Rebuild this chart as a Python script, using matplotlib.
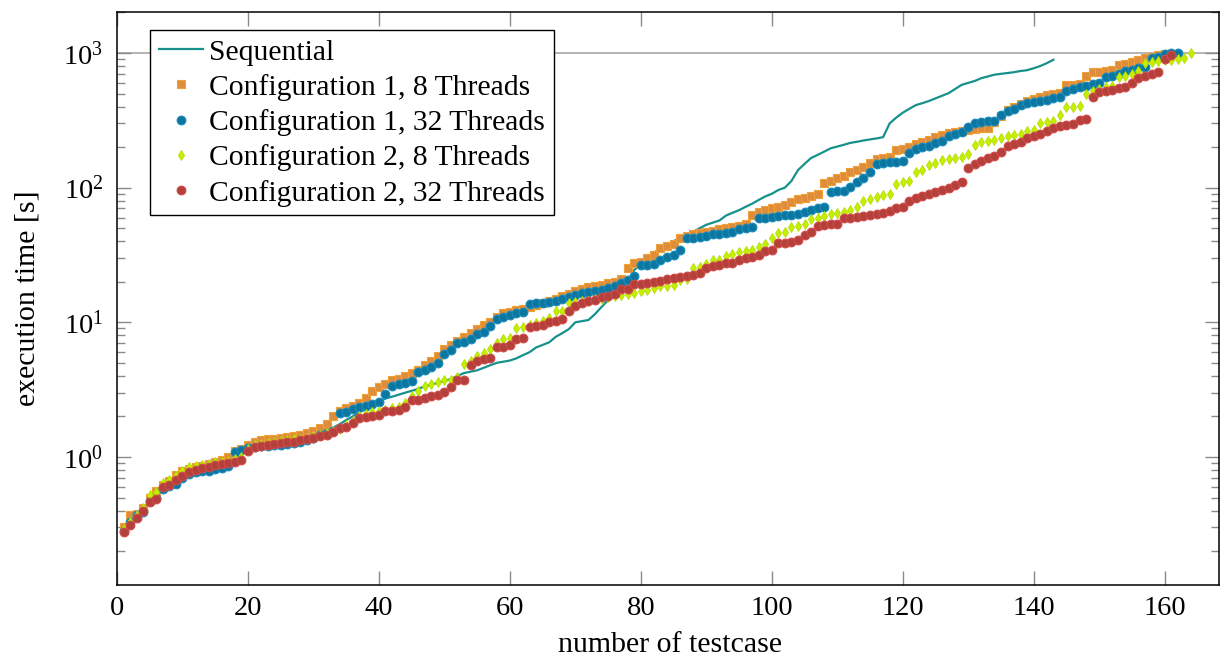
import matplotlib
matplotlib.use("Agg")
import matplotlib.pyplot as plt
import numpy as np
from matplotlib.ticker import LogLocator, FixedLocator, NullFormatter

plt.rcParams['font.family'] = ['Liberation Serif', 'DejaVu Serif']
plt.rcParams['mathtext.fontset'] = 'stix'
plt.rcParams['font.size'] = 20

# execution times in seconds, sorted per configuration
sequential = [
    0.28, 0.32, 0.36, 0.40, 0.45, 0.50, 0.58, 0.62, 0.66, 0.72,
    0.76, 0.78, 0.80, 0.82, 0.85, 0.88, 0.92, 1.05, 1.12, 1.16,
    1.20, 1.22, 1.24, 1.26, 1.28, 1.30, 1.33, 1.36, 1.40, 1.45,
    1.50, 1.58, 1.65, 1.75, 1.88, 2.00, 2.15, 2.25, 2.40, 2.55,
    2.72, 2.80, 2.90, 3.00, 3.10, 3.20, 3.35, 3.45, 3.55, 3.65,
    3.80, 4.00, 4.20, 4.30, 4.40, 4.60, 4.80, 5.00, 5.10, 5.20,
    5.40, 5.70, 6.00, 6.50, 6.80, 7.10, 7.80, 8.30, 8.90, 10.0,
    10.2, 10.4, 11.5, 13.0, 14.6, 16.0, 17.5, 19.6, 24.5, 27.0,
    30.0, 33.0, 35.0, 37.0, 40.0, 42.0, 45.0, 47.0, 50.0, 53.0,
    55.0, 57.0, 62.0, 65.0, 68.0, 72.0, 76.0, 81.0, 86.0, 90.0,
    96.0, 100, 112, 135, 150, 166, 175, 185, 196, 202,
    208, 215, 219, 224, 228, 232, 237, 300, 331, 360,
    385, 410, 424, 440, 460, 480, 503, 540, 580, 600,
    620, 650, 670, 690, 700, 710, 720, 735, 745, 770,
    800, 840, 890,
]

conf1_8 = [
    0.30, 0.37, 0.38, 0.42, 0.50, 0.56, 0.62, 0.66, 0.74, 0.79,
    0.82, 0.84, 0.86, 0.88, 0.92, 0.95, 1.00, 1.10, 1.15, 1.22,
    1.30, 1.33, 1.35, 1.37, 1.38, 1.40, 1.42, 1.45, 1.50, 1.55,
    1.65, 1.75, 2.00, 2.20, 2.30, 2.40, 2.50, 2.75, 3.10, 3.30,
    3.50, 3.70, 3.80, 4.00, 4.20, 4.45, 4.80, 5.20, 5.60, 6.30,
    6.80, 7.30, 7.80, 8.30, 8.90, 9.50, 10.1, 11.0, 11.7, 12.0,
    12.3, 12.6, 13.0, 13.5, 14.0, 14.5, 15.0, 15.6, 16.2, 17.0,
    17.6, 18.2, 18.6, 19.0, 19.5, 20.0, 21.0, 25.3, 27.5, 28.0,
    30.0, 31.5, 35.5, 37.0, 38.0, 42.0, 44.0, 45.0, 46.0, 47.0,
    48.0, 49.0, 50.0, 51.0, 52.0, 54.0, 63.0, 66.0, 68.0, 70.0,
    72.0, 74.0, 78.0, 82.0, 84.0, 86.0, 90.0, 108, 112, 118,
    122, 130, 135, 142, 152, 162, 165, 170, 190, 195,
    200, 210, 218, 225, 236, 245, 255, 260, 265, 270,
    272, 275, 278, 306, 340, 380, 400, 420, 440, 455,
    470, 485, 500, 505, 575, 580, 590, 680, 720, 725,
    735, 745, 810, 830, 860, 880, 920, 940, 960, 980,
]

conf1_32 = [
    0.28, 0.33, 0.37, 0.39, 0.47, 0.50, 0.58, 0.61, 0.63, 0.70,
    0.75, 0.77, 0.78, 0.79, 0.81, 0.83, 0.86, 1.08, 1.12, 1.16,
    1.18, 1.20, 1.21, 1.22, 1.23, 1.24, 1.26, 1.30, 1.34, 1.38,
    1.45, 1.50, 1.56, 2.12, 2.14, 2.27, 2.33, 2.37, 2.47, 2.56,
    2.93, 3.37, 3.48, 3.55, 3.67, 4.27, 4.40, 4.66, 5.00, 5.80,
    6.20, 7.00, 7.20, 7.50, 8.20, 8.50, 9.40, 10.6, 11.0, 11.3,
    11.8, 12.0, 13.6, 13.9, 14.0, 14.2, 14.5, 14.8, 15.4, 15.9,
    16.4, 16.9, 17.2, 17.5, 18.0, 18.5, 19.5, 20.5, 22.0, 26.6,
    26.8, 27.0, 29.0, 30.4, 31.5, 34.5, 42.0, 42.5, 43.0, 44.0,
    45.3, 45.5, 46.0, 47.0, 49.6, 50.3, 51.0, 59.0, 60.0, 61.0,
    62.0, 62.5, 63.0, 64.0, 66.0, 68.0, 70.0, 72.0, 93.0, 94.0,
    95.0, 101, 110, 118, 130, 150, 153, 155, 156, 158,
    181, 195, 200, 203, 215, 222, 240, 250, 260, 280,
    300, 305, 310, 315, 345, 370, 385, 410, 425, 432,
    440, 450, 465, 468, 520, 540, 555, 570, 590, 600,
    660, 670, 700, 730, 750, 770, 790, 910, 930, 980,
    1000, 1005,
]

conf2_8 = [
    0.29, 0.33, 0.37, 0.42, 0.52, 0.55, 0.64, 0.67, 0.72, 0.78,
    0.84, 0.86, 0.87, 0.89, 0.91, 0.92, 0.94, 0.97, 1.00, 1.15,
    1.22, 1.25, 1.27, 1.29, 1.31, 1.33, 1.35, 1.37, 1.39, 1.42,
    1.46, 1.50, 1.55, 1.62, 1.72, 1.85, 2.00, 2.08, 2.15, 2.20,
    2.25, 2.30, 2.35, 2.50, 2.85, 3.10, 3.35, 3.50, 3.60, 3.70,
    3.75, 3.90, 4.90, 5.20, 5.60, 5.90, 6.30, 7.00, 7.50, 7.70,
    9.00, 9.20, 9.50, 9.80, 10.2, 10.8, 12.1, 12.2, 13.9, 14.1,
    14.3, 14.5, 14.8, 15.0, 15.3, 15.6, 15.9, 16.1, 16.6, 17.1,
    17.5, 17.9, 18.5, 18.5, 19.0, 20.6, 20.8, 25.3, 25.6, 27.0,
    29.0, 29.2, 31.0, 32.0, 33.3, 34.0, 34.5, 36.0, 38.0, 42.0,
    46.0, 47.0, 51.0, 52.0, 54.0, 58.0, 60.0, 62.0, 64.0, 65.0,
    66.0, 68.0, 72.0, 80.0, 82.0, 85.0, 88.0, 90.0, 106, 110,
    112, 130, 135, 148, 152, 160, 163, 165, 170, 178,
    207, 218, 222, 226, 232, 240, 245, 252, 262, 268,
    300, 305, 310, 345, 395, 398, 402, 500, 520, 540,
    555, 570, 660, 680, 700, 740, 840, 850, 870, 880,
    890, 900, 920, 1000,
]

conf2_32 = [
    0.277, 0.31, 0.35, 0.40, 0.46, 0.49, 0.60, 0.62, 0.67, 0.72,
    0.77, 0.80, 0.83, 0.84, 0.87, 0.89, 0.90, 0.92, 0.95, 1.11,
    1.19, 1.20, 1.22, 1.24, 1.27, 1.29, 1.30, 1.33, 1.35, 1.38,
    1.42, 1.46, 1.52, 1.64, 1.67, 1.80, 1.95, 1.98, 2.00, 2.05,
    2.20, 2.20, 2.25, 2.35, 2.64, 2.67, 2.74, 2.84, 2.90, 3.04,
    3.30, 3.70, 3.75, 4.80, 5.20, 5.30, 5.40, 6.50, 6.60, 6.80,
    7.50, 7.60, 9.20, 9.40, 9.60, 10.0, 10.2, 10.6, 12.1, 13.2,
    13.9, 14.3, 14.7, 15.3, 15.7, 16.2, 17.6, 17.8, 19.2, 19.2,
    19.5, 19.8, 20.3, 20.8, 21.3, 21.8, 22.2, 22.5, 23.2, 25.3,
    26.0, 26.8, 27.5, 27.8, 29.0, 29.8, 30.7, 31.5, 33.6, 34.5,
    38.7, 39.0, 39.5, 41.0, 44.4, 47.0, 52.0, 53.0, 53.5, 54.0,
    59.0, 60.0, 61.0, 62.0, 63.0, 64.0, 65.0, 67.0, 71.0, 72.0,
    80.0, 84.0, 87.0, 90.0, 93.0, 96.0, 100, 104, 110, 140,
    150, 158, 165, 172, 185, 205, 212, 220, 235, 242,
    250, 262, 275, 285, 290, 298, 318, 325, 470, 515,
    525, 535, 545, 560, 600, 650, 670, 700, 725, 900,
    970,
]

labels = ['Sequential', 'Configuration 1, 8 Threads', 'Configuration 1, 32 Threads',
          'Configuration 2, 8 Threads', 'Configuration 2, 32 Threads']

fig = plt.figure(figsize=(12.2, 6.58), dpi=100)
ax = fig.add_axes([117 / 1220, 1 - 585 / 658, (1219 - 117) / 1220, (585 - 12) / 658])


def idx(values):
    return np.arange(1, len(values) + 1)


ax.axhline(1000, color='#a8a8a8', lw=1.2, zorder=1)

ax.plot(idx(sequential), sequential, color='#16918c', lw=1.6, label=labels[0], zorder=2)
ax.plot(idx(conf1_8), conf1_8, ls='none', marker='s', ms=5.8, mfc='#dd8d3c',
        mec='#f2a035', mew=0.8, label=labels[1], zorder=3)
ax.plot(idx(conf1_32), conf1_32, ls='none', marker='o', ms=6.3, mfc='#0b76a0',
        mec='#1d8cbc', mew=0.8, label=labels[2], zorder=4)
ax.plot(idx(conf2_8), conf2_8, ls='none', marker='d', ms=5.0, mfc='#c6ee00',
        mec='#b2df00', mew=0.6, label=labels[3], zorder=5)
ax.plot(idx(conf2_32), conf2_32, ls='none', marker='o', ms=6.3, mfc='#b3403a',
        mec='#d24a48', mew=0.8, label=labels[4], zorder=6)

ax.set_yscale('log')
ax.set_xlim(0, 168.3)
ax.set_ylim(0.112, 2015)

ax.xaxis.set_major_locator(FixedLocator(np.arange(0, 161, 20)))
ax.yaxis.set_major_locator(LogLocator(base=10, numticks=10))
ax.yaxis.set_minor_locator(LogLocator(base=10, subs=np.arange(2, 10), numticks=10))
ax.yaxis.set_minor_formatter(NullFormatter())

ax.tick_params(which='both', direction='in', top=True, right=True, color='#8a8a8a', width=1.0)
ax.tick_params(which='major', length=10, labelsize=20.5)
ax.tick_params(which='minor', length=6)
ax.tick_params(axis='y', which='major', pad=10)
ax.tick_params(axis='x', which='major', pad=8)

for sp in ax.spines.values():
    sp.set_linewidth(1.1)
    sp.set_color('black')

fig.text(28 / 1220, 1 - 298 / 658, 'execution time [s]', rotation=90,
         ha='center', va='center', fontsize=21.5)
fig.text(670 / 1220, 1 - 645 / 658, 'number of testcase', ha='center', va='center',
         fontsize=21.5)

leg = ax.legend(loc='upper left', bbox_to_anchor=((150 - 117) / 1102, 1 - (30 - 12) / 573),
                borderaxespad=0, frameon=True, fancybox=False, numpoints=1,
                prop={'size': 21.3}, handlelength=1.5, handletextpad=0.2,
                borderpad=0.3, labelspacing=0.28)
leg.get_frame().set_edgecolor('black')
leg.get_frame().set_linewidth(1.0)
leg.get_frame().set_alpha(1)
leg.set_zorder(10)

fig.savefig('out.png', dpi=100)
